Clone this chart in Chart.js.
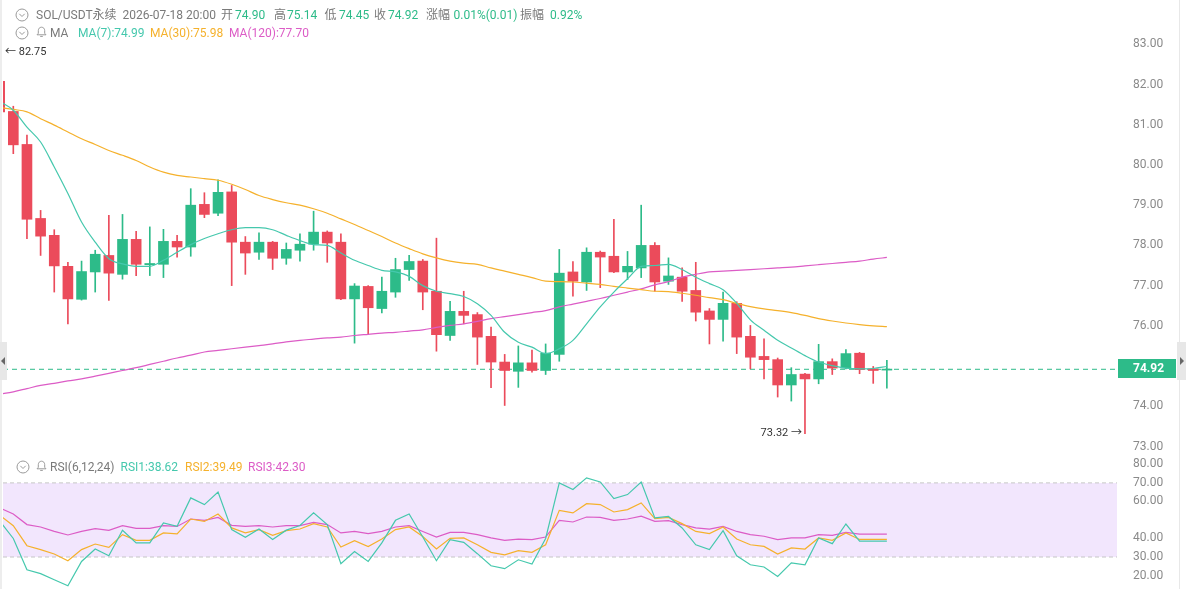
<!DOCTYPE html>
<html>
<head>
<meta charset="utf-8">
<title>SOL/USDT</title>
<script src="https://cdn.jsdelivr.net/npm/chart.js@4/dist/chart.umd.min.js"></script>
<style>
    html, body { margin: 0; padding: 0; background: #fff; }
    #wrap {
        position: relative;
        width: 1186px;
        height: 589px;
        overflow: hidden;
        font-family: Roboto, "Noto Sans CJK SC", sans-serif;
        font-size: 12px;
    }
    canvas { position: absolute; left: 0; }
    .t { position: absolute; white-space: nowrap; line-height: 16px; }
    .ico { position: absolute; }
    .tab { position: absolute; background: #e7e7e7; }
    .tri { position: absolute; width: 0; height: 0; border-top: 4px solid transparent; border-bottom: 4px solid transparent; }
</style>
</head>
<body>
<div id="wrap">
    <canvas id="price" width="1186" height="455" style="top:0"></canvas>
    <canvas id="rsi" width="1186" height="134" style="top:455px"></canvas>
    <div style="position:absolute;left:0;top:0;width:2px;height:589px;background:#ededed"></div>
    <div style="position:absolute;left:1179px;top:0;width:1px;height:589px;background:#e8e8e8"></div>
    <div class="tab" style="left:0;top:342px;width:7px;height:38px">
        <div class="tri" style="left:1px;top:15px;border-right:4px solid #666"></div>
    </div>
    <div class="tab" style="left:1177px;top:342px;width:9px;height:38px">
        <div class="tri" style="left:3px;top:15px;border-left:4px solid #666"></div>
    </div>
    <div id="labels"></div>
</div>
<script>
// candles, index 0 is the one cut off at the left edge
const OPEN = [82.08, 81.33, 80.51, 78.67, 78.25, 77.48, 76.66, 77.34, 77.75, 77.28,
    78.15, 77.52, 77.53, 78.10, 77.96, 79.02, 78.80, 79.33, 78.08, 77.83,
    78.08, 77.68, 77.88, 78.03, 78.33, 78.08, 76.67, 76.98, 76.43, 76.84,
    77.40, 77.61, 76.86, 75.76, 76.36, 76.28, 75.74, 75.10, 74.87, 75.08,
    74.89, 75.29, 77.34, 77.09, 77.83, 77.73, 77.34, 77.44, 78.00, 77.11,
    77.21, 76.88, 76.37, 76.16, 76.56, 75.74, 75.24, 75.16, 74.53, 74.80,
    74.68, 75.11, 74.95, 75.32, 74.93, 74.90];
const HIGH = [82.75, 81.46, 80.74, 78.87, 78.39, 77.58, 77.61, 77.88, 78.75, 78.77,
    78.35, 78.46, 78.40, 78.25, 79.41, 79.31, 79.63, 79.49, 78.22, 78.31,
    78.10, 78.06, 78.29, 78.85, 78.36, 78.29, 77.05, 77.00, 77.21, 77.68,
    77.75, 77.65, 78.18, 76.61, 76.86, 76.33, 75.97, 75.29, 75.50, 75.40,
    75.55, 77.90, 77.60, 77.94, 77.86, 78.65, 77.85, 79.00, 78.07, 77.69,
    77.44, 77.58, 76.43, 76.84, 76.60, 76.01, 75.68, 75.20, 74.96, 74.82,
    75.54, 75.18, 75.41, 75.34, 74.99, 75.14];
const LOW = [81.20, 80.28, 78.17, 77.75, 76.84, 76.05, 76.64, 76.84, 76.63, 77.16,
    77.25, 77.25, 77.20, 77.71, 77.73, 78.69, 78.74, 77.00, 77.28, 77.65,
    77.40, 77.53, 77.61, 77.88, 77.58, 76.65, 75.57, 75.79, 76.32, 76.71,
    77.13, 76.40, 75.37, 75.64, 76.05, 75.04, 74.46, 74.02, 74.47, 74.85,
    74.79, 75.12, 76.74, 76.88, 76.95, 77.32, 77.15, 77.20, 76.86, 77.03,
    76.61, 76.12, 75.55, 75.62, 75.31, 74.93, 74.68, 74.23, 74.13, 73.32,
    74.56, 74.79, 74.93, 74.81, 74.57, 74.45];
const CLOSE = [81.32, 80.50, 78.65, 78.23, 77.49, 76.67, 77.35, 77.78, 77.31, 78.15,
    77.53, 77.55, 78.10, 77.96, 79.00, 78.77, 79.32, 78.08, 77.81, 78.08,
    77.68, 77.90, 78.03, 78.33, 78.06, 76.67, 76.99, 76.45, 76.86, 77.40,
    77.60, 76.84, 75.78, 76.36, 76.26, 75.72, 75.10, 74.89, 75.08, 74.89,
    75.32, 77.31, 77.11, 77.83, 77.71, 77.34, 77.48, 78.00, 77.09, 77.24,
    76.86, 76.34, 76.16, 76.56, 75.72, 75.22, 75.16, 74.53, 74.79, 74.68,
    75.11, 74.95, 75.31, 74.91, 74.89, 74.92];

const MA7 = [81.58, 81.36, 80.94, 80.57, 79.95, 79.29, 78.58, 78.08, 77.67, 77.54,
    77.48, 77.48, 77.63, 77.83, 78.02, 78.17, 78.29, 78.39, 78.44, 78.44,
    78.39, 78.25, 78.12, 78.02, 78.00, 77.81, 77.63, 77.50, 77.38, 77.34,
    77.23, 77.00, 76.86, 76.80, 76.73, 76.55, 76.26, 75.84, 75.59, 75.47,
    75.31, 75.43, 75.64, 76.05, 76.47, 76.84, 77.17, 77.48, 77.50, 77.53,
    77.40, 77.21, 77.05, 76.90, 76.56, 76.15, 75.89, 75.64, 75.45, 75.26,
    75.10, 75.01, 74.95, 74.93, 74.94, 74.99];
const MA30 = [81.43, 81.38, 81.32, 81.15, 80.99, 80.82, 80.65, 80.51, 80.36, 80.24,
    80.11, 79.95, 79.82, 79.74, 79.70, 79.66, 79.62, 79.52, 79.39, 79.24,
    79.14, 79.06, 79.00, 78.91, 78.80, 78.66, 78.52, 78.37, 78.22, 78.06,
    77.92, 77.79, 77.69, 77.61, 77.56, 77.53, 77.44, 77.36, 77.28, 77.20,
    77.11, 77.10, 77.09, 77.06, 77.03, 76.98, 76.94, 76.90, 76.86, 76.85,
    76.81, 76.76, 76.70, 76.65, 76.56, 76.48, 76.42, 76.38, 76.33, 76.26,
    76.18, 76.12, 76.07, 76.03, 76.00, 75.98];
const MA120 = [74.30, 74.36, 74.44, 74.52, 74.57, 74.63, 74.68, 74.75, 74.82, 74.89,
    74.96, 75.04, 75.12, 75.20, 75.27, 75.35, 75.39, 75.43, 75.47, 75.51,
    75.55, 75.60, 75.64, 75.67, 75.70, 75.72, 75.76, 75.79, 75.82, 75.84,
    75.87, 75.90, 75.96, 76.01, 76.05, 76.11, 76.18, 76.23, 76.28, 76.33,
    76.38, 76.47, 76.54, 76.61, 76.68, 76.76, 76.84, 76.92, 77.02, 77.10,
    77.21, 77.28, 77.34, 77.36, 77.38, 77.40, 77.42, 77.44, 77.46, 77.49,
    77.52, 77.55, 77.58, 77.61, 77.66, 77.70];

const RSI1 = [49.5, 40.0, 23.1, 21.0, 17.7, 14.5, 27.6, 34.3, 30.7, 44.4,
    37.6, 37.6, 48.4, 46.6, 61.9, 58.3, 65.1, 44.8, 40.6, 45.1,
    39.4, 44.5, 47.0, 53.8, 47.5, 26.4, 33.0, 27.6, 37.6, 49.8,
    53.2, 40.8, 28.0, 39.4, 37.9, 31.8, 25.3, 23.7, 28.5, 26.2,
    40.0, 70.0, 66.4, 72.7, 70.5, 61.5, 63.7, 70.4, 51.1, 51.9,
    45.7, 36.6, 34.0, 44.2, 30.7, 25.8, 24.6, 19.5, 26.8, 25.8,
    40.3, 37.2, 47.8, 38.6, 38.62, 38.62];
const RSI2 = [52.5, 46.9, 36.1, 34.0, 31.6, 28.0, 34.0, 37.0, 35.2, 42.1,
    39.0, 39.0, 43.0, 42.5, 50.5, 49.2, 53.2, 45.7, 43.0, 44.8,
    41.7, 44.2, 45.1, 48.0, 46.2, 35.4, 38.8, 35.6, 39.7, 44.8,
    46.2, 41.1, 34.3, 40.1, 40.3, 36.6, 32.5, 31.2, 33.4, 32.5,
    36.6, 55.2, 53.8, 58.8, 58.3, 54.3, 55.6, 59.2, 50.7, 51.4,
    48.0, 43.8, 42.6, 46.2, 39.7, 36.6, 35.7, 31.6, 34.9, 34.3,
    40.3, 39.0, 43.0, 39.49, 39.49, 39.49];
const RSI3 = [56.5, 53.2, 47.5, 46.2, 43.8, 41.9, 43.8, 45.3, 44.4, 46.9,
    45.5, 45.5, 46.9, 46.5, 50.5, 49.8, 51.4, 47.1, 46.5, 46.9,
    46.2, 46.9, 46.9, 48.7, 47.5, 43.0, 43.8, 42.6, 43.8, 46.2,
    46.9, 43.8, 40.8, 43.3, 43.3, 42.1, 40.3, 39.0, 39.7, 39.4,
    40.8, 49.8, 48.9, 51.6, 51.4, 49.8, 50.5, 52.0, 49.2, 49.6,
    47.5, 45.7, 45.1, 46.5, 43.8, 42.1, 41.2, 39.4, 40.3, 40.3,
    42.1, 41.7, 43.3, 42.3, 42.3, 42.3];

const PRICE_TICKS = [73, 74, 75, 76, 77, 78, 79, 80, 81, 82, 83];
const RSI_TICKS = [20, 30, 40, 60, 70, 80];
const RSI_UPPER = 70;
const RSI_LOWER = 30;

// visible index window (about 82 slots, first candle half off-screen)
const X_MIN = 0.245;
const X_MAX = 81.86;
const AXIS_W = 69;

const COLORS = {
    up: '#2dbb89',
    down: '#eb4b5b',
    ma7: '#45c8ad',
    ma30: '#f5b12c',
    ma120: '#dc5cc6',
    label: '#7a7a7a',
    tick: '#8a8a8a',
    band: '#f2e6fd',
    bandLine: '#c6c6c6',
};

const FONT = 'Roboto, "Noto Sans CJK SC", sans-serif';

function points(values) {
    return values.map((v, i) => ({ x: i, y: v }));
}

function flat(value) {
    return [{ x: X_MIN, y: value }, { x: X_MAX, y: value }];
}

const candleColors = CLOSE.map((c, i) => (c >= OPEN[i] ? COLORS.up : COLORS.down));

function rightAxis(min, max, ticks) {
    return {
        position: 'right',
        min,
        max,
        afterBuildTicks(scale) {
            scale.ticks = ticks.map((value) => ({ value }));
        },
        afterFit(scale) {
            scale.width = AXIS_W;
            scale.paddingTop = 0;
            scale.paddingBottom = 0;
        },
        grid: { display: false, drawTicks: false },
        border: { display: false },
        ticks: {
            padding: 16,
            color: COLORS.tick,
            font: { family: FONT, size: 12 },
            callback: (v) => Number(v).toFixed(2),
        },
    };
}

const xAxis = { type: 'linear', min: X_MIN, max: X_MAX, offset: false, display: false };

function line(values, color, order, extra) {
    return {
        type: 'line',
        data: points(values),
        borderColor: color,
        borderWidth: 1.2,
        pointRadius: 0,
        clip: 0,
        order,
        ...extra,
    };
}

// ← 82.75 / 73.32 → markers and the last price tag
const pricePlugin = {
    id: 'priceMarks',
    afterDraw(chart) {
        const { ctx, chartArea, scales: { x, y } } = chart;
        const hi = Math.max(...HIGH);
        const lo = Math.min(...LOW);
        const hiIdx = HIGH.indexOf(hi);
        const loIdx = LOW.indexOf(lo);
        ctx.save();
        ctx.font = `11px ${FONT}`;
        ctx.fillStyle = '#333';
        ctx.textBaseline = 'middle';
        ctx.textAlign = 'left';
        ctx.fillText(`← ${hi.toFixed(2)}`, Math.max(x.getPixelForValue(hiIdx) + 4, chartArea.left + 2), y.getPixelForValue(hi) - 2);
        ctx.textAlign = 'right';
        ctx.fillText(`${lo.toFixed(2)} →`, x.getPixelForValue(loIdx) - 3, y.getPixelForValue(lo));

        const last = CLOSE[CLOSE.length - 1];
        const py = Math.round(y.getPixelForValue(last));
        ctx.fillStyle = COLORS.up;
        ctx.fillRect(chartArea.right + 1, py - 10, 58, 19);
        ctx.fillStyle = '#fff';
        ctx.font = `bold 12px ${FONT}`;
        ctx.textAlign = 'left';
        ctx.fillText(last.toFixed(2), chartArea.right + 16, py);
        ctx.restore();
    },
};

const baseOptions = {
    responsive: false,
    animation: false,
    devicePixelRatio: 1,
    events: [],
    layout: { padding: { left: 3, right: 0, top: 0, bottom: 0 } },
    plugins: { legend: { display: false }, tooltip: { enabled: false } },
};

new Chart(document.getElementById('price'), {
    type: 'bar',
    data: {
        datasets: [
            line(MA7, COLORS.ma7, 0, { cubicInterpolationMode: 'monotone' }),
            line(MA30, COLORS.ma30, 1, { cubicInterpolationMode: 'monotone' }),
            line(MA120, COLORS.ma120, 2, { cubicInterpolationMode: 'monotone' }),
            {
                type: 'bar',
                data: OPEN.map((o, i) => ({ x: i, y: [o, CLOSE[i]] })),
                backgroundColor: candleColors,
                barThickness: 10,
                minBarLength: 1,
                grouped: false,
                clip: 0,
                order: 3,
            },
            {
                type: 'bar',
                data: LOW.map((l, i) => ({ x: i, y: [l, HIGH[i]] })),
                backgroundColor: candleColors,
                barThickness: 1,
                grouped: false,
                clip: 0,
                order: 4,
            },
            {
                type: 'line',
                data: flat(CLOSE[CLOSE.length - 1]),
                borderColor: COLORS.up,
                borderWidth: 1,
                borderDash: [5, 4],
                pointRadius: 0,
                order: 5,
            },
        ],
    },
    options: {
        ...baseOptions,
        scales: {
            x: xAxis,
            y: rightAxis(72.789, 84.101, PRICE_TICKS),
        },
    },
    plugins: [pricePlugin],
});

new Chart(document.getElementById('rsi'), {
    type: 'line',
    data: {
        datasets: [
            {
                data: flat(RSI_UPPER),
                borderColor: COLORS.bandLine,
                borderWidth: 1,
                borderDash: [4, 3],
                pointRadius: 0,
                fill: '+1',
                backgroundColor: COLORS.band,
                order: 10,
            },
            {
                data: flat(RSI_LOWER),
                borderColor: COLORS.bandLine,
                borderWidth: 1,
                borderDash: [4, 3],
                pointRadius: 0,
                fill: false,
                order: 11,
            },
            line(RSI3, COLORS.ma120, 2),
            line(RSI2, COLORS.ma30, 1),
            line(RSI1, COLORS.ma7, 0),
        ],
    },
    options: {
        ...baseOptions,
        plugins: { ...baseOptions.plugins, filler: { drawTime: 'beforeDatasetsDraw' } },
        scales: {
            x: xAxis,
            y: rightAxis(12.73, 85.06, RSI_TICKS),
        },
    },
});

// header rows
const CIRCLE = '<svg width="14" height="14" viewBox="0 0 14 14"><circle cx="7" cy="7" r="6" fill="none" stroke="#9a9a9a"/><path d="M4.3 5.8L7 8.5l2.7-2.7" fill="none" stroke="#9a9a9a"/></svg>';
const BELL = '<svg width="11" height="12" viewBox="0 0 11 12"><path d="M5.5 1.2C3.6 1.2 2.3 2.7 2.3 4.6v2.7L1 8.8h9L8.7 7.3V4.6c0-1.9-1.3-3.4-3.2-3.4z" fill="none" stroke="#9a9a9a"/><path d="M4.2 10.4h2.6" stroke="#9a9a9a"/></svg>';

const ROWS = [
    { cy: 15, icons: [[CIRCLE, 15]], items: [
        ['SOL/USDT永续', 36, COLORS.label], ['2026-07-18 20:00', 122.5, COLORS.label],
        ['开', 221, COLORS.label], ['74.90', 235, COLORS.up],
        ['高', 274, COLORS.label], ['75.14', 287, COLORS.up],
        ['低', 324.5, COLORS.label], ['74.45', 339, COLORS.up],
        ['收', 374, COLORS.label], ['74.92', 388, COLORS.up],
        ['涨幅', 426, COLORS.label], ['0.01%(0.01)', 453.5, COLORS.up],
        ['振幅', 520, COLORS.label], ['0.92%', 550, COLORS.up],
    ] },
    { cy: 33, icons: [[CIRCLE, 15], [BELL, 36]], items: [
        ['MA', 50, COLORS.label], ['MA(7):74.99', 78, COLORS.ma7],
        ['MA(30):75.98', 150, COLORS.ma30], ['MA(120):77.70', 229, COLORS.ma120],
    ] },
    { cy: 467, icons: [[CIRCLE, 16], [BELL, 36]], items: [
        ['RSI(6,12,24)', 50, COLORS.label], ['RSI1:38.62', 120.5, COLORS.ma7],
        ['RSI2:39.49', 185, COLORS.ma30], ['RSI3:42.30', 248, COLORS.ma120],
    ] },
];

const host = document.getElementById('labels');
ROWS.forEach((row) => {
    row.icons.forEach(([svg, left]) => {
        const el = document.createElement('div');
        el.className = 'ico';
        el.style.left = `${left}px`;
        el.style.top = `${row.cy - 7}px`;
        el.innerHTML = svg;
        host.appendChild(el);
    });
    row.items.forEach(([text, left, color]) => {
        const el = document.createElement('div');
        el.className = 't';
        el.textContent = text;
        el.style.left = `${left}px`;
        el.style.top = `${row.cy - 8}px`;
        el.style.color = color;
        host.appendChild(el);
    });
});
</script>
</body>
</html>
